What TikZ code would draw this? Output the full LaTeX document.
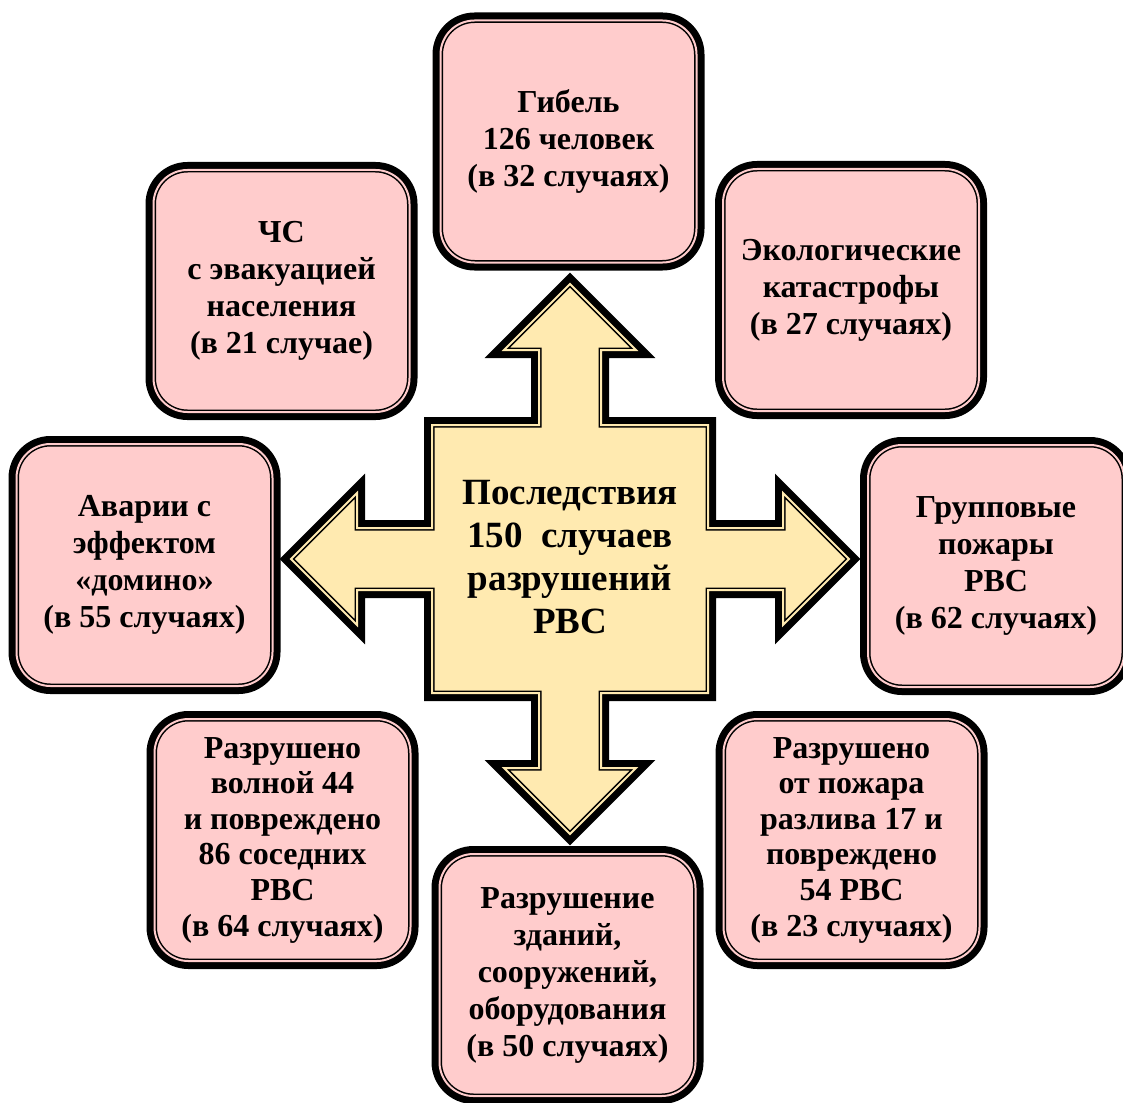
\documentclass[tikz,border=0pt]{standalone}
\usepackage{fontspec}
\setmainfont{Liberation Serif}
\usetikzlibrary{positioning}
\definecolor{boxpink}{RGB}{255,204,204}
\definecolor{arrowgold}{RGB}{255,234,176}
\tikzset{
thickthin/.style={draw=black, line width=5pt,
  preaction={draw=black, line width=16pt},
  postaction={draw=#1, line width=2pt}},
consequence/.style={rectangle, rounded corners=34pt, fill=boxpink, thickthin=boxpink,
  minimum width=256pt, minimum height=242pt, align=center,
  font=\bfseries\fontsize{32}{37}\selectfont},
tight/.style={font=\bfseries\fontsize{32}{35.6}\selectfont},
hub/.style={align=center, font=\bfseries\fontsize{37}{43}\selectfont},
quadarrow/.style={fill=arrowgold, thickthin=arrowgold},
}

\begin{document}
\begin{tikzpicture}[x=1pt, y=-1pt]
    \useasboundingbox (0,0) rectangle (1123,1102);

    \draw[quadarrow, shift={(570,559)}]
      (-31,-134) -- (-31,-209) -- (-66,-209) -- (0,-275) -- (66,-209) -- (31,-209) -- (31,-134)
      -- (138,-134) -- (138,-31) -- (213,-31) -- (213,-66) -- (279,0) -- (213,66) -- (213,31) -- (138,31)
      -- (138,134) -- (31,134) -- (31,209) -- (66,209) -- (0,275) -- (-66,209) -- (-31,209) -- (-31,134)
      -- (-138,134) -- (-138,31) -- (-213,31) -- (-213,66) -- (-279,0) -- (-213,-66) -- (-213,-31) -- (-138,-31)
      -- (-138,-134) -- cycle;
    \node[hub] (centre) at (570,557) {Последствия\\150\ \ случаев\\разрушений\\РВС};

    \node[consequence] (deaths) at (568.5,141.5) {Гибель\\126 человек\\(в 32 случаях)};
    \node[consequence] (evacuation) at (281.5,291) {ЧС\\с эвакуацией\\населения\\(в 21 случае)};
    \node[consequence] (ecology) at (851,290) {Экологические\\катастрофы\\(в 27 случаях)};
    \node[consequence] (domino) at (144.5,565) {Аварии с\\эффектом\\«домино»\\(в 55 случаях)};
    \node[consequence] (fires) at (996,566) {Групповые\\пожары\\РВС\\(в 62 случаях)};
    \node[consequence, tight] (blast) at (282.5,840) {Разрушено\\волной 44\\и повреждено\\86 соседних\\РВС\\(в 64 случаях)};
    \node[consequence, tight] (spill) at (851.5,840) {Разрушено\\от пожара\\разлива 17 и\\повреждено\\54 РВС\\(в 23 случаях)};
    \node[consequence] (buildings) at (567.5,975) {Разрушение\\зданий,\\сооружений,\\оборудования\\(в 50 случаях)};

\end{tikzpicture}
\end{document}
